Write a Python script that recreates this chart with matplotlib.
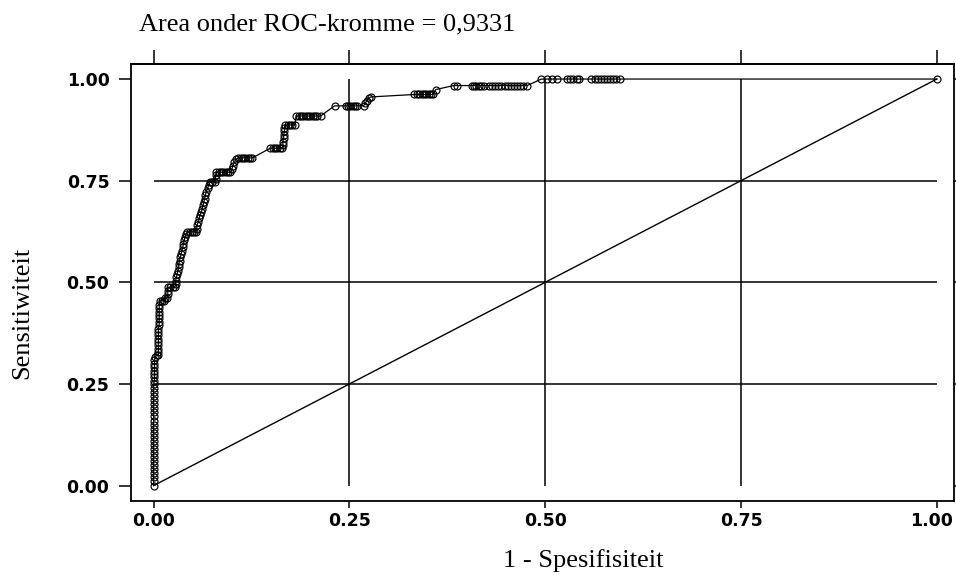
import matplotlib
matplotlib.use("Agg")
import matplotlib.pyplot as plt
import matplotlib.transforms as mtransforms

TITLE = "Area onder ROC-kromme = 0,9331"
X_LABEL = "1 - Spesifisiteit"
Y_LABEL = "Sensitiwiteit"

TICKS = [0.0, 0.25, 0.5, 0.75, 1.0]
TICK_LABELS = ["0.00", "0.25", "0.50", "0.75", "1.00"]
GRID_AT = [0.25, 0.5, 0.75]

# ROC points, one line per run of the staircase
FPR = [
    0.000, 0.000, 0.000, 0.000, 0.000, 0.000, 0.000, 0.000, 0.000, 0.000, 0.000, 0.000, 0.000,
    0.000, 0.000, 0.000, 0.000, 0.000, 0.000, 0.000, 0.000, 0.000, 0.000, 0.000, 0.000, 0.000,
    0.001, 0.001, 0.001, 0.001, 0.001, 0.001, 0.001,
    0.002, 0.004, 0.006,
    0.006, 0.006, 0.006, 0.006, 0.006, 0.006, 0.006, 0.006, 0.007, 0.007, 0.007, 0.007, 0.007, 0.007, 0.007,
    0.008, 0.011, 0.013, 0.015, 0.017, 0.018, 0.018, 0.018, 0.021, 0.024, 0.027,
    0.028, 0.028, 0.029, 0.030, 0.031, 0.032, 0.032, 0.033, 0.034, 0.035, 0.036, 0.037, 0.038, 0.039, 0.040, 0.041,
    0.043, 0.046, 0.049, 0.052, 0.054,
    0.055, 0.055, 0.057, 0.058, 0.059, 0.061, 0.062, 0.063, 0.064, 0.065, 0.066, 0.067, 0.069, 0.070,
    0.072, 0.075, 0.078, 0.079, 0.079, 0.080, 0.083, 0.086, 0.089, 0.092, 0.095, 0.098,
    0.100, 0.101, 0.103, 0.105,
    0.108, 0.111, 0.114, 0.117, 0.120, 0.123, 0.126,
    0.149, 0.152, 0.155, 0.158, 0.161, 0.164,
    0.165, 0.165, 0.166, 0.166, 0.167, 0.167,
    0.168, 0.171, 0.174, 0.177, 0.180,
    0.182, 0.185, 0.188, 0.191, 0.194, 0.197, 0.200, 0.203, 0.206, 0.209, 0.213,
    0.231, 0.245, 0.248, 0.251, 0.254, 0.257, 0.260, 0.268,
    0.270, 0.272, 0.275, 0.277,
    0.333, 0.336, 0.339, 0.342, 0.345, 0.348, 0.351, 0.354, 0.357,
    0.360, 0.383, 0.387,
    0.406, 0.409, 0.412, 0.415, 0.418, 0.422, 0.428, 0.432, 0.436, 0.440,
    0.444, 0.448, 0.452, 0.456, 0.460, 0.464, 0.468, 0.472, 0.477,
    0.495, 0.502, 0.509, 0.515, 0.528, 0.532, 0.536, 0.540, 0.543, 0.559,
    0.563, 0.567, 0.571, 0.575, 0.579, 0.583, 0.587, 0.591, 0.596, 1.000,
]
TPR = [
    0.000, 0.010, 0.020, 0.030, 0.040, 0.050, 0.060, 0.070, 0.080, 0.090, 0.100, 0.110, 0.120,
    0.130, 0.140, 0.150, 0.160, 0.170, 0.180, 0.190, 0.200, 0.210, 0.220, 0.230, 0.240, 0.250,
    0.258, 0.266, 0.275, 0.283, 0.291, 0.300, 0.308,
    0.317, 0.320, 0.320,
    0.328, 0.336, 0.345, 0.353, 0.361, 0.370, 0.378, 0.386, 0.395, 0.403, 0.411, 0.420, 0.428, 0.436, 0.445,
    0.455, 0.455, 0.455, 0.462, 0.462, 0.470, 0.478, 0.488, 0.488, 0.488, 0.488,
    0.496, 0.504, 0.512, 0.520, 0.529, 0.537, 0.545, 0.553, 0.562, 0.570, 0.578, 0.586, 0.595, 0.603, 0.611, 0.619,
    0.624, 0.624, 0.624, 0.624, 0.624,
    0.632, 0.640, 0.648, 0.657, 0.665, 0.673, 0.681, 0.690, 0.698, 0.706, 0.714, 0.723, 0.731, 0.739,
    0.747, 0.747, 0.747, 0.755, 0.763, 0.771, 0.771, 0.771, 0.771, 0.771, 0.771, 0.771,
    0.779, 0.787, 0.795, 0.803,
    0.806, 0.806, 0.806, 0.806, 0.806, 0.806, 0.806,
    0.830, 0.830, 0.830, 0.830, 0.830, 0.830,
    0.838, 0.846, 0.855, 0.863, 0.871, 0.879,
    0.887, 0.887, 0.887, 0.887, 0.887,
    0.909, 0.909, 0.909, 0.909, 0.909, 0.909, 0.909, 0.909, 0.909, 0.909, 0.909,
    0.934, 0.934, 0.934, 0.934, 0.934, 0.934, 0.934, 0.934,
    0.940, 0.947, 0.953, 0.956,
    0.962, 0.962, 0.962, 0.962, 0.962, 0.962, 0.962, 0.962, 0.962,
    0.974, 0.984, 0.984,
    0.984, 0.984, 0.984, 0.984, 0.984, 0.984, 0.984, 0.984, 0.984, 0.984,
    0.984, 0.984, 0.984, 0.984, 0.984, 0.984, 0.984, 0.984, 0.984,
    1.000, 1.000, 1.000, 1.000, 1.000, 1.000, 1.000, 1.000, 1.000, 1.000,
    1.000, 1.000, 1.000, 1.000, 1.000, 1.000, 1.000, 1.000, 1.000, 1.000,
]
assert len(FPR) == len(TPR)

W, H = 956, 575
fig = plt.figure(figsize=(W / 100, H / 100), dpi=100)

# axes box in pixels: left 131, right 954, top 64, bottom 501
ax = fig.add_axes([131 / W, 1 - 501 / H, (954 - 131) / W, (501 - 64) / H])
ax.set_xlim(-0.029, 1.022)
ax.set_ylim(-0.038, 1.037)

# grid only spans the unit square
ax.hlines(GRID_AT, 0, 1, color="black", linewidth=1.1)
ax.vlines(GRID_AT, 0, 1, color="black", linewidth=1.1)

# reference diagonal
ax.plot([0, 1], [0, 1], color="black", linewidth=1.0)

# ROC curve
ax.plot(FPR, TPR, color="black", linewidth=0.9, marker="o", markersize=5,
        markerfacecolor="none", markeredgecolor="black", markeredgewidth=0.85)

for s in ax.spines.values():
    s.set_linewidth(1.3)

ax.set_xticks(TICKS, TICK_LABELS, fontweight="bold")
ax.set_yticks(TICKS, TICK_LABELS, fontweight="bold")
ax.tick_params(axis="y", direction="out", length=8.5, width=1.1, pad=7, labelsize=12.5, right=True)
ax.tick_params(axis="x", direction="out", length=5, width=1.1, pad=3, labelsize=12.5)

# last x label sits right at the page edge, nudge it left a little
last = ax.get_xticklabels()[-1]
last.set_transform(last.get_transform()
                   + mtransforms.ScaledTranslation(-4 / 72, 0, fig.dpi_scale_trans))

# ticks on the top edge, no labels
top = ax.secondary_xaxis("top")
top.set_xticks(TICKS)
top.tick_params(axis="x", direction="out", length=10, width=1.1, labeltop=False)
top.spines["top"].set_linewidth(1.3)

serif = "Liberation Serif"
fig.text(139 / W, 1 - 30 / H, TITLE, family=serif, fontsize=19, ha="left", va="baseline")
fig.text(583 / W, 1 - 567 / H, X_LABEL, family=serif, fontsize=19, ha="center", va="baseline")
fig.text(22 / W, 1 - 313 / H, Y_LABEL, family=serif, fontsize=19, rotation=90,
         ha="center", va="center")

fig.savefig("out.png", dpi=100)
